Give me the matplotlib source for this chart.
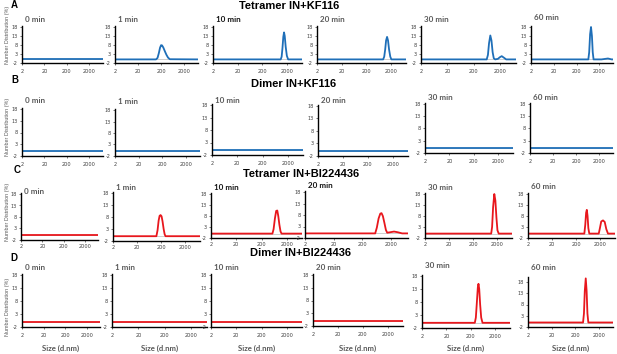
import matplotlib.pyplot as plt
import numpy as np

plt.rcParams["axes.unicode_minus"] = False

# ---- data (size in d.nm, number distribution in %) ----
times = ["0 min", "1 min", "10 min", "20 min", "30 min", "60 min"]
row_titles = ["Tetramer IN+KF116", "Dimer IN+KF116", "Tetramer IN+BI224436", "Dimer IN+BI224436"]
row_letters = ["A", "B", "C", "D"]
xticks = [2, 20, 200, 2000]
yticks = [-2, 3, 8, 13, 18]

flat_size = [2, 8000]
flat_dist = [0, 0]

# tetramer + KF116
tk_1_size = [2, 120, 140, 160, 180, 200, 220, 250, 290, 340, 400, 480, 8000]
tk_1_dist = [0, 0, 0.8, 3.5, 6.5, 7.9, 7.8, 6.6, 4.6, 2.6, 1.0, 0.1, 0]
tk_10_size = [2, 1100, 1200, 1300, 1400, 1500, 1600, 1750, 1950, 2200, 8000]
tk_10_dist = [0, 0, 1.5, 6.5, 12.5, 15, 13, 7, 2, 0, 0]
tk_20_size = [2, 950, 1050, 1150, 1250, 1370, 1500, 1650, 1850, 2050, 8000]
tk_20_dist = [0, 0, 1.5, 5.5, 10.5, 12.5, 10.5, 5.5, 1.5, 0, 0]
tk_30_size = [2, 620, 690, 760, 850, 940, 1040, 1150, 1300, 1650, 1950, 2300, 2750, 3400, 8000]
tk_30_dist = [0, 0, 2.5, 9, 13.3, 10.5, 4, 0.6, 0, 0.3, 1.2, 1.8, 1.0, 0, 0]
tk_60_size = [2, 660, 720, 790, 866, 950, 1030, 1120, 2500, 4800, 7000, 8000]
tk_60_dist = [0, 0, 4, 14, 18, 13, 4, 0, 0, 0.5, 0, 0]

# tetramer + BI224436
tb_1_size = [2, 125, 140, 155, 170, 187, 205, 225, 250, 275, 300, 8000]
tb_1_dist = [0, 0, 2.5, 6.5, 8.5, 8.8, 8.3, 6.2, 3, 0.8, 0, 0]
tb_10_size = [2, 540, 600, 680, 760, 840, 920, 1020, 1130, 1240, 8000]
tb_10_dist = [0, 0, 2, 7, 10.3, 10.5, 8, 4, 1, 0, 0]
tb_20_size = [2, 570, 650, 750, 860, 950, 1060, 1200, 1350, 1500, 1900, 2600, 3500, 5000, 8000]
tb_20_dist = [0, 0, 2.5, 6.5, 8.6, 8.8, 7.5, 4.5, 1.5, 0.3, 0.5, 0.8, 0.5, 0, 0]
tb_30_size = [2, 1100, 1200, 1320, 1480, 1640, 1820, 2000, 2250, 8000]
tb_30_dist = [0, 0, 3, 12, 18, 15, 7, 1.5, 0, 0]
tb_60_size = [2, 430, 470, 510, 545, 585, 630, 690, 1700, 1900, 2150, 2550, 3000, 3500, 4100, 8000]
tb_60_dist = [0, 0, 4, 9.5, 10.8, 8, 2.5, 0, 0, 2.5, 5.5, 6, 5.3, 2, 0, 0]

# dimer + BI224436
db_30_size = [2, 290, 320, 350, 385, 410, 440, 480, 530, 600, 8000]
db_30_dist = [0, 0, 2, 7.5, 13.5, 15, 13, 7, 2, 0, 0]
db_60_size = [2, 430, 470, 510, 560, 610, 660, 720, 8000]
db_60_dist = [0, 0, 4, 14, 19.6, 14, 4, 0, 0]

rows = [
    [(flat_size, flat_dist), (tk_1_size, tk_1_dist), (tk_10_size, tk_10_dist),
     (tk_20_size, tk_20_dist), (tk_30_size, tk_30_dist), (tk_60_size, tk_60_dist)],
    [(flat_size, flat_dist)] * 6,
    [(flat_size, flat_dist), (tb_1_size, tb_1_dist), (tb_10_size, tb_10_dist),
     (tb_20_size, tb_20_dist), (tb_30_size, tb_30_dist), (tb_60_size, tb_60_dist)],
    [(flat_size, flat_dist)] * 4 + [(db_30_size, db_30_dist), (db_60_size, db_60_dist)],
]
row_colors = ["#1f6fb8", "#1f6fb8", "#e8171d", "#e8171d"]

# ---- layout in reference pixels: x left/right, y pixel of 18 and of -2 ----
W, H = 617, 354
panel_x = [
    [(22, 103), (115, 198), (213, 302), (317, 406), (421, 516), (531, 613)],
    [(22, 103), (115, 200), (212, 303), (318, 408), (425, 513), (530, 613)],
    [(21, 98), (113, 200), (211, 302), (305, 408), (425, 512), (528, 615)],
    [(22, 100), (112, 207), (211, 302), (313, 403), (422, 510), (528, 613)],
]
panel_y = [
    [(27, 63)] * 6,
    [(109, 156), (110, 156), (105, 155), (106, 156), (104, 153), (104, 153)],
    [(194, 240), (193, 241), (194, 238), (192, 238), (194, 238), (194, 238)],
    [(275, 327), (275, 327), (275, 327), (275, 326), (276, 328), (282, 327)],
]
title_y = [
    [19, 19, 19, 19, 19, 17],
    [100, 101, 100, 100, 97, 98],
    [191, 188, 187, 185, 187, 186],
    [267, 267, 267, 267, 266, 267],
]
dark_titles = {(0, 2), (2, 2), (2, 3)}
head_y = [6, 84, 174, 253]
head_x = [289, 294, 301, 300]
letter_y = [5, 80, 170, 258]
letter_x = [14, 15, 17, 14]
ylab_y = [35, 127, 212, 307]
xpad = [2.5, 2.5, 1.2, 2.5]

fig = plt.figure(figsize=(W / 100, H / 100), dpi=100)

for r in range(4):
    for c in range(6):
        x0, x1 = panel_x[r][c]
        y18, ym2 = panel_y[r][c]
        ytop = 20.3 if (r == 3 and c == 5) else 18.5
        unit = (ym2 - y18) / 20.0
        top = y18 - (ytop - 18) * unit
        ax = fig.add_axes([x0 / W, 1 - ym2 / H, (x1 - x0) / W, (ym2 - top) / H])
        sizes, dist = rows[r][c]
        ax.axhline(0, color="#c8c8c8", lw=0.6, zorder=1)
        ax.plot(sizes, dist, color=row_colors[r], lw=1.3, zorder=2)
        ax.set_xscale("log")
        ax.set_xlim(2, 8000)
        ax.set_ylim(-2, ytop)
        ax.set_xticks(xticks)
        ax.set_xticklabels([str(t) for t in xticks])
        ax.minorticks_off()
        ax.set_yticks(yticks)
        ax.tick_params(labelsize=3.6, colors="#404040", length=1.5, width=0.5, pad=1.5)
        ax.tick_params(axis="x", pad=xpad[r])
        for s in ["top", "right"]:
            ax.spines[s].set_visible(False)
        ax.spines["left"].set_linewidth(1.0)
        ax.spines["bottom"].set_linewidth(1.0)
        ax.patch.set_alpha(0)
        col = "#111111" if (r, c) in dark_titles else "#595959"
        fig.text((x0 + 3) / W, 1 - title_y[r][c] / H, times[c], fontsize=5.8,
                 fontweight="bold", color=col, ha="left", va="center", family="Lato")
        if r == 3:
            fig.text((x0 + x1) / 2 / W, 1 - 348 / H, "Size (d.nm)", fontsize=5.6,
                     color="#595959", ha="center", va="center", family="Lato", fontweight="bold")

    fig.text(head_x[r] / W, 1 - head_y[r] / H, row_titles[r], fontsize=8, fontweight="bold",
             ha="center", va="center", family="Liberation Sans")
    fig.text(letter_x[r] / W, 1 - letter_y[r] / H, row_letters[r], fontsize=7, fontweight="bold",
             ha="center", va="center", family="Liberation Sans")
    fig.text(8 / W, 1 - ylab_y[r] / H, "Number Distribution (%)", fontsize=3.9, rotation=90,
             color="#595959", ha="center", va="center", family="Liberation Sans")

fig.savefig("out.png", dpi=100)
